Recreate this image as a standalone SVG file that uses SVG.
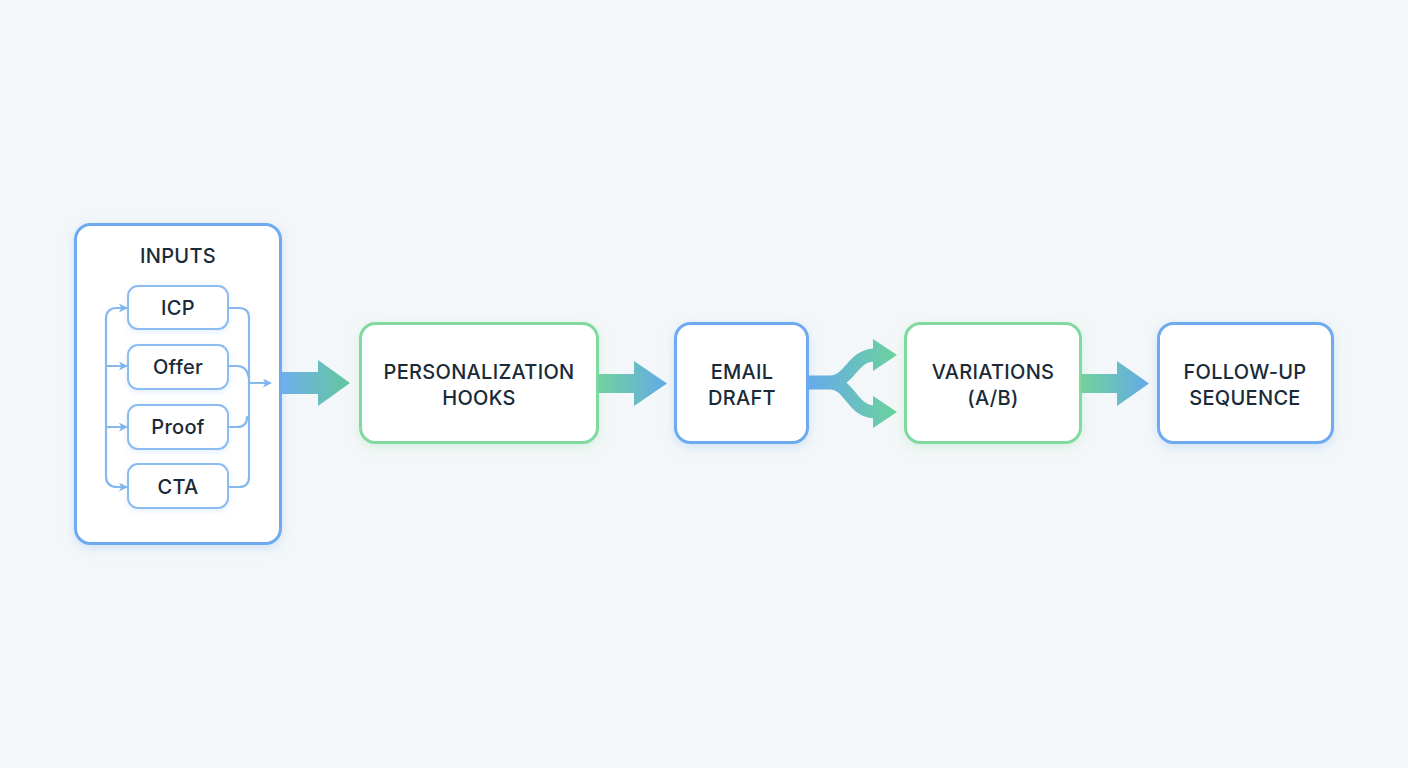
<svg xmlns="http://www.w3.org/2000/svg" width="1408" height="768" viewBox="0 0 1408 768">
<defs>
<style>
.txt{font-family:Inter,"Liberation Sans",Arial,sans-serif;font-size:20px;font-weight:500;fill:#1a2a38;text-anchor:middle;letter-spacing:0.3px}
.bbox{fill:#ffffff;stroke:#6eaaef;stroke-width:3}
.gbox{fill:#ffffff;stroke:#82d9a0;stroke-width:3}
.sub{fill:#ffffff;stroke:#8dbcf0;stroke-width:2}
.bus{fill:none;stroke:#86b8ee;stroke-width:2.2;stroke-linecap:round;stroke-linejoin:round}
</style>
<filter id="glowB" x="-20%" y="-20%" width="140%" height="140%">
<feDropShadow dx="0" dy="3" stdDeviation="6" flood-color="#6eaaef" flood-opacity="0.28"/>
</filter>
<filter id="glowG" x="-20%" y="-20%" width="140%" height="140%">
<feDropShadow dx="0" dy="3" stdDeviation="6" flood-color="#82d9a0" flood-opacity="0.28"/>
</filter>
<filter id="soft" x="-20%" y="-20%" width="140%" height="140%">
<feDropShadow dx="0" dy="2" stdDeviation="3" flood-color="#6eaaef" flood-opacity="0.2"/>
</filter>
<marker id="sa" viewBox="0 0 10 10" refX="8" refY="5" markerWidth="9" markerHeight="9" orient="auto" markerUnits="userSpaceOnUse">
<path d="M0 0 L10 5 L0 10 L3 5 Z" fill="#7db3ee"/>
</marker>
<linearGradient id="g1" gradientUnits="userSpaceOnUse" x1="282" y1="0" x2="350" y2="0">
<stop offset="0" stop-color="#6fb0ec"/><stop offset="1" stop-color="#63c79c"/>
</linearGradient>
<linearGradient id="g2" gradientUnits="userSpaceOnUse" x1="598" y1="0" x2="667" y2="0">
<stop offset="0" stop-color="#72d29c"/><stop offset="1" stop-color="#62aae9"/>
</linearGradient>
<linearGradient id="g3" gradientUnits="userSpaceOnUse" x1="808" y1="0" x2="897" y2="0">
<stop offset="0" stop-color="#66a9ec"/><stop offset="1" stop-color="#6ad39c"/>
</linearGradient>
<linearGradient id="g4" gradientUnits="userSpaceOnUse" x1="1081" y1="0" x2="1149" y2="0">
<stop offset="0" stop-color="#72d29c"/><stop offset="1" stop-color="#62aae9"/>
</linearGradient>
</defs>
<rect width="1408" height="768" fill="#f4f7f9"/>

<g id="inputs">
<rect class="bbox" x="75.5" y="224.5" width="205" height="319" rx="15" filter="url(#glowB)"/>
<text class="txt" x="178" y="263">INPUTS</text>
</g>
<g id="icp">
<rect class="sub" x="128" y="286" width="100" height="43" rx="10" filter="url(#soft)"/>
<text class="txt" x="178" y="315">ICP</text>
</g>
<g id="offer">
<rect class="sub" x="128" y="345" width="100" height="44" rx="10" filter="url(#soft)"/>
<text class="txt" x="178" y="374">Offer</text>
</g>
<g id="proof">
<rect class="sub" x="128" y="405" width="100" height="44" rx="10" filter="url(#soft)"/>
<text class="txt" x="178" y="434">Proof</text>
</g>
<g id="cta">
<rect class="sub" x="128" y="464" width="100" height="44" rx="10" filter="url(#soft)"/>
<text class="txt" x="178" y="494">CTA</text>
</g>

<g id="hooks">
<rect class="gbox" x="360.5" y="323.5" width="237" height="119" rx="15" filter="url(#glowG)"/>
<text class="txt" x="479" y="379">PERSONALIZATION</text>
<text class="txt" x="479" y="405">HOOKS</text>
</g>
<g id="email">
<rect class="bbox" x="675.5" y="323.5" width="132" height="119" rx="15" filter="url(#glowB)"/>
<text class="txt" x="742" y="379">EMAIL</text>
<text class="txt" x="742" y="405">DRAFT</text>
</g>
<g id="variations">
<rect class="gbox" x="905.5" y="323.5" width="175" height="119" rx="15" filter="url(#glowG)"/>
<text class="txt" x="993" y="379">VARIATIONS</text>
<text class="txt" x="993" y="405">(A/B)</text>
</g>
<g id="followup">
<rect class="bbox" x="1158.5" y="323.5" width="174" height="119" rx="15" filter="url(#glowB)"/>
<text class="txt" x="1245" y="379">FOLLOW-UP</text>
<text class="txt" x="1245" y="405">SEQUENCE</text>
</g>

<g id="connectors">
<!-- left bus -->
<path class="bus" d="M126 308 H117 Q106 308 106 319 V476 Q106 487 117 487 H126" marker-end="url(#sa)"/>
<path class="bus" d="M117 308 H126" marker-end="url(#sa)"/>
<path class="bus" d="M106 366 H126" marker-end="url(#sa)"/>
<path class="bus" d="M106 427 H126" marker-end="url(#sa)"/>
<!-- right bus -->
<path class="bus" d="M229 308 H239 Q249 308 249 318 V477 Q249 487 239 487 H229"/>
<path class="bus" d="M229 366 H237 Q247 366 249 378"/>
<path class="bus" d="M229 427 H237 Q247 427 247 417"/>
<path class="bus" d="M249 383 H270" marker-end="url(#sa)"/>
<!-- big arrows -->
<path d="M282 372 H318 V360 L350 383 L318 406 V394 H282 Z" fill="url(#g1)"/>
<path d="M598 374 H634 V361 L667 383.5 L634 406 V393 H598 Z" fill="url(#g2)"/>
<path d="M1081 374 H1117 V361 L1149 383.5 L1117 406 V393 H1081 Z" fill="url(#g4)"/>
<!-- fork -->
<path d="M808 382 H830 C850 382 852 355 875 355" fill="none" stroke="url(#g3)" stroke-width="13"/>
<path d="M808 383 H830 C850 383 852 412 875 412" fill="none" stroke="url(#g3)" stroke-width="13"/>
<path d="M873 339 L897 355 L873 371 Z" fill="url(#g3)"/>
<path d="M873 396 L897 412 L873 428 Z" fill="url(#g3)"/>
</g>
</svg>
